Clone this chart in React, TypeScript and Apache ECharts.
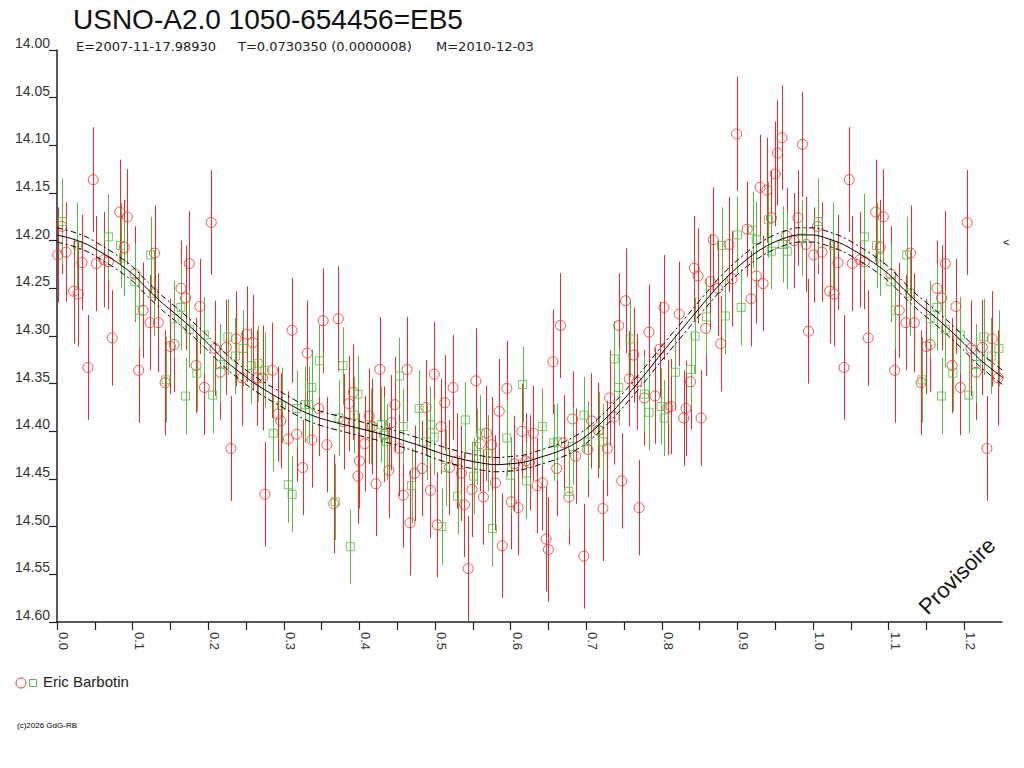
import React, { useEffect, useRef } from "react";
import * as echarts from "echarts";

const TITLE = "USNO-A2.0 1050-654456=EB5";
const SUB_E = "E=2007-11-17.98930";
const SUB_T = "T=0.0730350 (0.0000008)";
const SUB_M = "M=2010-12-03";
const OBSERVER = "Eric Barbotin";
const COPYRIGHT = "(c)2026 GdG-RB";
const STAMP = "Provisoire";

// [phase, magnitude, error] — red circles
const redObs: [number, number, number][] = [
  [0.001, 14.215, 0.05], [0.006, 14.185, 0.05], [0.012, 14.212, 0.052], [0.022, 14.253, 0.055],
  [0.028, 14.256, 0.055], [0.033, 14.223, 0.05], [0.041, 14.333, 0.055], [0.048, 14.136, 0.055],
  [0.052, 14.224, 0.05], [0.062, 14.22, 0.05], [0.068, 14.222, 0.05], [0.073, 14.302, 0.05],
  [0.083, 14.17, 0.055], [0.089, 14.207, 0.05], [0.093, 14.175, 0.05], [0.103, 14.235, 0.05],
  [0.108, 14.336, 0.055], [0.114, 14.273, 0.05], [0.123, 14.286, 0.05], [0.129, 14.213, 0.05],
  [0.134, 14.286, 0.052], [0.143, 14.349, 0.055], [0.15, 14.311, 0.05], [0.155, 14.309, 0.05],
  [0.164, 14.25, 0.05], [0.17, 14.26, 0.055], [0.175, 14.224, 0.055], [0.184, 14.331, 0.05],
  [0.189, 14.269, 0.05], [0.195, 14.354, 0.05], [0.204, 14.181, 0.055], [0.209, 14.313, 0.05],
  [0.216, 14.338, 0.05], [0.224, 14.312, 0.05], [0.23, 14.418, 0.055], [0.237, 14.303, 0.05],
  [0.245, 14.344, 0.05], [0.251, 14.298, 0.05], [0.259, 14.307, 0.05], [0.265, 14.344, 0.05],
  [0.272, 14.344, 0.055], [0.275, 14.466, 0.055], [0.285, 14.336, 0.05], [0.292, 14.382, 0.05],
  [0.296, 14.389, 0.05], [0.306, 14.408, 0.05], [0.311, 14.294, 0.055], [0.317, 14.403, 0.05],
  [0.325, 14.438, 0.05], [0.331, 14.318, 0.055], [0.337, 14.409, 0.05], [0.346, 14.376, 0.05],
  [0.352, 14.284, 0.055], [0.357, 14.414, 0.05], [0.366, 14.476, 0.052], [0.372, 14.282, 0.055],
  [0.379, 14.39, 0.05], [0.386, 14.371, 0.05], [0.392, 14.359, 0.05], [0.398, 14.447, 0.05],
  [0.4, 14.431, 0.05], [0.407, 14.413, 0.05], [0.413, 14.384, 0.05], [0.417, 14.395, 0.05],
  [0.422, 14.455, 0.055], [0.427, 14.335, 0.055], [0.433, 14.403, 0.05], [0.439, 14.441, 0.05],
  [0.442, 14.391, 0.05], [0.447, 14.372, 0.05], [0.453, 14.418, 0.05], [0.458, 14.467, 0.055],
  [0.463, 14.335, 0.055], [0.467, 14.496, 0.055], [0.473, 14.444, 0.05], [0.483, 14.439, 0.05],
  [0.488, 14.375, 0.05], [0.494, 14.462, 0.05], [0.499, 14.34, 0.055], [0.503, 14.498, 0.055],
  [0.508, 14.395, 0.05], [0.513, 14.37, 0.05], [0.519, 14.438, 0.05], [0.524, 14.354, 0.055],
  [0.529, 14.431, 0.05], [0.535, 14.444, 0.05], [0.539, 14.477, 0.055], [0.544, 14.544, 0.055],
  [0.549, 14.461, 0.05], [0.554, 14.347, 0.055], [0.56, 14.413, 0.05], [0.564, 14.469, 0.05],
  [0.568, 14.402, 0.05], [0.575, 14.414, 0.05], [0.58, 14.454, 0.05], [0.585, 14.379, 0.055],
  [0.589, 14.52, 0.055], [0.595, 14.355, 0.05], [0.601, 14.474, 0.05], [0.605, 14.434, 0.05],
  [0.61, 14.48, 0.05], [0.615, 14.4, 0.05], [0.62, 14.431, 0.05], [0.625, 14.433, 0.05],
  [0.63, 14.402, 0.05], [0.635, 14.457, 0.05], [0.642, 14.454, 0.05], [0.647, 14.513, 0.055],
  [0.65, 14.524, 0.055], [0.656, 14.327, 0.055], [0.661, 14.439, 0.05], [0.666, 14.289, 0.055],
  [0.67, 14.412, 0.05], [0.677, 14.469, 0.05], [0.682, 14.387, 0.05], [0.686, 14.426, 0.05],
  [0.697, 14.531, 0.055], [0.702, 14.419, 0.05], [0.707, 14.389, 0.05], [0.716, 14.399, 0.05],
  [0.722, 14.481, 0.055], [0.728, 14.418, 0.05], [0.731, 14.365, 0.05], [0.737, 14.385, 0.05],
  [0.743, 14.289, 0.055], [0.747, 14.452, 0.05], [0.752, 14.263, 0.055], [0.757, 14.345, 0.05],
  [0.763, 14.32, 0.05], [0.767, 14.348, 0.05], [0.77, 14.48, 0.05], [0.777, 14.365, 0.05],
  [0.783, 14.296, 0.05], [0.791, 14.363, 0.05], [0.797, 14.314, 0.05], [0.803, 14.27, 0.055],
  [0.808, 14.375, 0.05], [0.812, 14.374, 0.05], [0.823, 14.277, 0.055], [0.829, 14.386, 0.05],
  [0.832, 14.376, 0.05], [0.838, 14.348, 0.05], [0.843, 14.229, 0.055], [0.848, 14.237, 0.05],
  [0.852, 14.386, 0.05], [0.858, 14.292, 0.05], [0.864, 14.243, 0.05], [0.868, 14.199, 0.055],
  [0.874, 14.25, 0.05], [0.878, 14.308, 0.05], [0.889, 14.204, 0.05], [0.893, 14.24, 0.05],
  [0.899, 14.088, 0.06], [0.913, 14.188, 0.05], [0.918, 14.261, 0.05], [0.925, 14.237, 0.05],
  [0.93, 14.144, 0.055], [0.934, 14.245, 0.05], [0.939, 14.147, 0.055], [0.945, 14.176, 0.05],
  [0.95, 14.13, 0.055], [0.953, 14.108, 0.055], [0.959, 14.092, 0.055], [0.965, 14.195, 0.05],
  [0.975, 14.2, 0.05], [0.98, 14.176, 0.05], [0.986, 14.099, 0.055], [0.991, 14.204, 0.05],
  [0.994, 14.295, 0.055],
];

// [phase, magnitude, error] — green squares
const greenObs: [number, number, number][] = [
  [0.007, 14.18, 0.045], [0.027, 14.205, 0.045], [0.068, 14.196, 0.045], [0.084, 14.205, 0.045],
  [0.088, 14.218, 0.04], [0.103, 14.243, 0.04], [0.109, 14.273, 0.04], [0.124, 14.215, 0.04],
  [0.128, 14.255, 0.045], [0.144, 14.346, 0.045], [0.155, 14.282, 0.04], [0.164, 14.27, 0.045],
  [0.17, 14.363, 0.04], [0.175, 14.293, 0.04], [0.185, 14.339, 0.04], [0.195, 14.299, 0.04],
  [0.206, 14.362, 0.04], [0.216, 14.33, 0.04], [0.226, 14.301, 0.04], [0.236, 14.321, 0.04],
  [0.246, 14.313, 0.04], [0.257, 14.331, 0.04], [0.266, 14.329, 0.04], [0.275, 14.336, 0.04],
  [0.286, 14.402, 0.04], [0.297, 14.373, 0.04], [0.306, 14.456, 0.04], [0.311, 14.466, 0.04],
  [0.317, 14.376, 0.04], [0.328, 14.372, 0.04], [0.333, 14.372, 0.04], [0.337, 14.354, 0.04],
  [0.347, 14.326, 0.038], [0.368, 14.474, 0.04], [0.373, 14.386, 0.04], [0.378, 14.331, 0.04],
  [0.388, 14.521, 0.039], [0.393, 14.383, 0.04], [0.398, 14.361, 0.04], [0.415, 14.395, 0.04],
  [0.429, 14.393, 0.04], [0.433, 14.404, 0.04], [0.436, 14.411, 0.04], [0.453, 14.342, 0.04],
  [0.458, 14.395, 0.04], [0.469, 14.457, 0.04], [0.479, 14.376, 0.04], [0.489, 14.411, 0.04],
  [0.494, 14.393, 0.04], [0.499, 14.406, 0.04], [0.509, 14.5, 0.04], [0.514, 14.438, 0.04],
  [0.53, 14.468, 0.04], [0.54, 14.388, 0.04], [0.551, 14.447, 0.04], [0.555, 14.416, 0.04],
  [0.56, 14.402, 0.04], [0.57, 14.423, 0.04], [0.576, 14.502, 0.04], [0.595, 14.407, 0.04],
  [0.6, 14.446, 0.04], [0.616, 14.351, 0.04], [0.621, 14.452, 0.04], [0.642, 14.395, 0.04],
  [0.657, 14.412, 0.04], [0.662, 14.411, 0.04], [0.677, 14.463, 0.04], [0.682, 14.416, 0.04],
  [0.697, 14.383, 0.04], [0.702, 14.411, 0.04], [0.717, 14.399, 0.04], [0.722, 14.411, 0.04],
  [0.737, 14.324, 0.04], [0.743, 14.354, 0.04], [0.758, 14.303, 0.04], [0.777, 14.361, 0.04],
  [0.783, 14.38, 0.04], [0.799, 14.374, 0.04], [0.803, 14.386, 0.04], [0.818, 14.338, 0.04],
  [0.838, 14.335, 0.04], [0.844, 14.3, 0.04], [0.859, 14.28, 0.04], [0.879, 14.205, 0.04],
  [0.884, 14.279, 0.04], [0.9, 14.194, 0.04], [0.905, 14.27, 0.04], [0.92, 14.189, 0.04],
  [0.925, 14.199, 0.04], [0.941, 14.178, 0.04], [0.945, 14.211, 0.04], [0.96, 14.204, 0.04],
  [0.966, 14.211, 0.04], [0.986, 14.197, 0.04],
];

// fitted light curve (phase 0..1)
const curvePhase = [
  0.0, 0.02, 0.04, 0.06, 0.08, 0.1, 0.12, 0.14, 0.16, 0.18, 0.2, 0.22, 0.24, 0.26, 0.28, 0.3,
  0.32, 0.34, 0.36, 0.38, 0.4, 0.42, 0.44, 0.46, 0.48, 0.5, 0.52, 0.54, 0.56, 0.58, 0.6, 0.62,
  0.64, 0.66, 0.68, 0.7, 0.72, 0.74, 0.76, 0.78, 0.8, 0.82, 0.84, 0.86, 0.88, 0.9, 0.92, 0.94,
  0.96, 0.98, 1.0,
];
const curveMag = [
  14.194, 14.198, 14.204, 14.213, 14.223, 14.235, 14.251, 14.266, 14.279, 14.293, 14.308, 14.324,
  14.337, 14.349, 14.359, 14.368, 14.377, 14.384, 14.389, 14.393, 14.397, 14.401, 14.405, 14.41,
  14.415, 14.421, 14.426, 14.43, 14.433, 14.435, 14.434, 14.432, 14.427, 14.422, 14.415, 14.405,
  14.391, 14.375, 14.357, 14.338, 14.318, 14.299, 14.28, 14.261, 14.243, 14.228, 14.215, 14.205,
  14.198, 14.194, 14.194,
];
const curveBand = 0.0075;

const PHASE_MAX = 1.25;

const RED = "#ee2b2b";
const GREEN = "#5cb845";
const FONT = "'Liberation Sans', Arial, sans-serif";
const FONT_WIDE = "'DejaVu Sans', 'Liberation Sans', sans-serif";

function wrapPhase(arr: [number, number, number][]) {
  const extra = arr
    .filter((p) => p[0] + 1 <= PHASE_MAX)
    .map((p) => [p[0] + 1, p[1], p[2]] as [number, number, number]);
  return arr.concat(extra);
}

function curveData(offset: number) {
  const base = curvePhase.map((ph, i) => [ph, curveMag[i] + offset]);
  const extra = curvePhase
    .map((ph, i) => [ph + 1, curveMag[i] + offset])
    .filter((p) => p[0] > 1 && p[0] <= PHASE_MAX + 0.02);
  return base.concat(extra);
}

function errorSeries(data: [number, number, number][], color: string) {
  return {
    type: "custom",
    clip: true,
    silent: true,
    data,
    encode: { x: 0, y: 1 },
    renderItem: (params: any, api: any) => {
      const x = api.value(0);
      const y = api.value(1);
      const e = api.value(2);
      const p1 = api.coord([x, y - e]);
      const p2 = api.coord([x, y + e]);
      const cx = Math.round(p1[0]) + 0.5;
      return {
        type: "line",
        shape: { x1: cx, y1: p1[1], x2: cx, y2: p2[1] },
        style: { stroke: color, lineWidth: 1 },
      };
    },
    z: 1,
  };
}

export default function App() {
  const ref = useRef<HTMLDivElement>(null);
  useEffect(() => {
    if (!ref.current) return;
    const chart = echarts.init(ref.current, undefined, { renderer: "svg" });
    const red = wrapPhase(redObs);
    const green = wrapPhase(greenObs);
    const option: any = {
      animation: false,
      backgroundColor: "#ffffff",
      textStyle: { fontFamily: FONT },
      grid: { left: 57, top: 50, right: 22, bottom: 146, containLabel: false },
      xAxis: {
        type: "value",
        min: 0,
        max: PHASE_MAX,
        interval: 0.05,
        axisLine: { show: true, onZero: false, lineStyle: { color: "#222", width: 1.5 } },
        axisTick: { show: true, length: 8, inside: false, lineStyle: { color: "#222", width: 1.2 } },
        axisLabel: {
          rotate: -90,
          margin: 10,
          fontSize: 13,
          color: "#333",
          fontFamily: FONT,
          verticalAlign: "bottom",
          showMaxLabel: false,
          formatter: (v: number) => {
            const k = Math.round(v * 100);
            return k % 10 === 0 ? (k / 100).toFixed(1) : "";
          },
        },
        splitLine: { show: false },
      },
      yAxis: {
        type: "value",
        inverse: true,
        min: 14.0,
        max: 14.6,
        interval: 0.05,
        axisLine: { show: true, onZero: false, lineStyle: { color: "#222", width: 1.5 } },
        axisTick: { show: true, length: 8, inside: false, lineStyle: { color: "#222", width: 1.2 } },
        axisLabel: {
          margin: 7,
          fontSize: 14,
          color: "#333",
          fontFamily: FONT,
          verticalAlign: "bottom",
          formatter: (v: number) => v.toFixed(2),
        },
        splitLine: { show: false },
      },
      series: [
        errorSeries(red, RED),
        errorSeries(green, GREEN),
        {
          type: "scatter",
          data: red.map((p) => [p[0], p[1]]),
          symbol: "circle",
          symbolSize: 10,
          itemStyle: { color: "rgba(255,255,255,0)", borderColor: RED, borderWidth: 1 },
          z: 2,
        },
        {
          type: "scatter",
          data: green.map((p) => [p[0], p[1]]),
          symbol: "rect",
          symbolSize: 8,
          itemStyle: { color: "rgba(255,255,255,0)", borderColor: GREEN, borderWidth: 1 },
          z: 3,
        },
        {
          type: "line",
          data: curveData(0),
          smooth: 0.3,
          showSymbol: false,
          lineStyle: { color: "#000", width: 1 },
          z: 4,
        },
        {
          type: "line",
          data: curveData(-curveBand),
          smooth: 0.3,
          showSymbol: false,
          lineStyle: { color: "#000", width: 1, type: [6, 3, 2, 3] },
          z: 4,
        },
        {
          type: "line",
          data: curveData(curveBand),
          smooth: 0.3,
          showSymbol: false,
          lineStyle: { color: "#000", width: 1, type: [6, 3, 2, 3] },
          z: 4,
        },
      ],
      graphic: [
        {
          type: "text",
          left: 73,
          top: 5,
          style: { text: TITLE, fontSize: 28, fontFamily: FONT, fill: "#111" },
        },
        { type: "text", left: 76, top: 40, style: { text: SUB_E, fontSize: 13, fontFamily: FONT_WIDE, fill: "#222" } },
        { type: "text", left: 238, top: 40, style: { text: SUB_T, fontSize: 13, fontFamily: FONT_WIDE, fill: "#222" } },
        { type: "text", left: 436, top: 40, style: { text: SUB_M, fontSize: 13, fontFamily: FONT_WIDE, fill: "#222" } },
        {
          type: "circle",
          shape: { cx: 21, cy: 683, r: 5 },
          style: { fill: "none", stroke: RED, lineWidth: 1 },
        },
        {
          type: "rect",
          shape: { x: 29.5, y: 679.5, width: 7, height: 7 },
          style: { fill: "none", stroke: GREEN, lineWidth: 1 },
        },
        { type: "text", left: 43, top: 674, style: { text: OBSERVER, fontSize: 15, fontFamily: FONT, fill: "#222" } },
        { type: "text", left: 17, top: 721, style: { text: COPYRIGHT, fontSize: 8, fontFamily: FONT, fill: "#000" } },
        {
          type: "text",
          x: 957,
          y: 576,
          rotation: Math.PI / 4,
          style: { text: STAMP, fontSize: 22, fontFamily: FONT, fill: "#111", align: "center", verticalAlign: "middle" },
        },
        { type: "text", left: 1003, top: 236, style: { text: "<", fontSize: 11, fontFamily: FONT, fill: "#111" } },
      ],
    };
    chart.setOption(option);
    return () => chart.dispose();
  }, []);
  return (
    <div
      ref={ref}
      style={{ position: "absolute", left: 0, top: 0, width: 1024, height: 768 }}
    />
  );
}
